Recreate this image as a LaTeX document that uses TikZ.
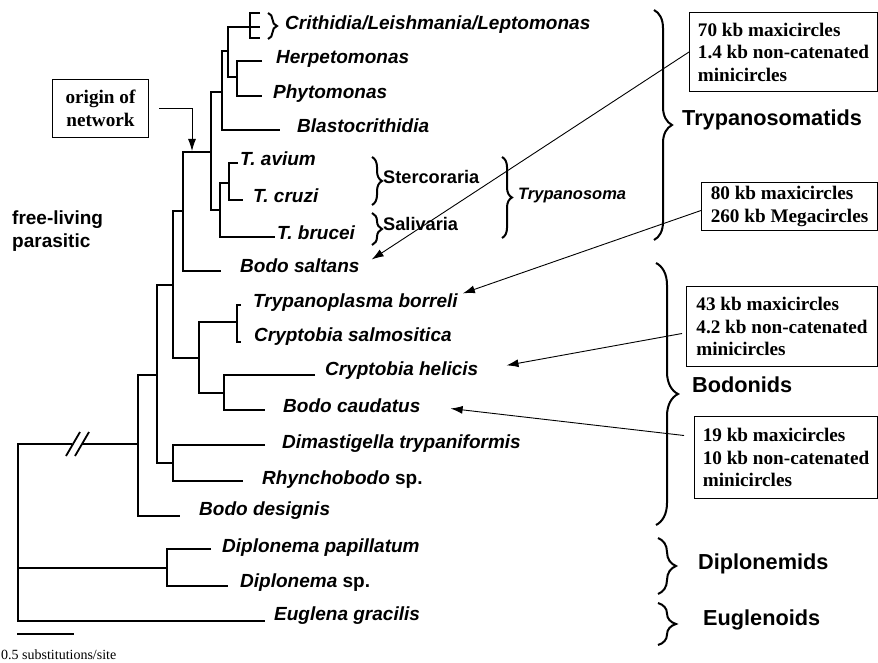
\documentclass[tikz,border=0pt]{standalone}
\usepackage{fontspec}
\setmainfont{Liberation Serif}
\setsansfont{Liberation Sans}
\usepackage{tikz}
\usetikzlibrary{arrows.meta,decorations.pathreplacing}

\newcommand{\taxfont}{\sffamily\bfseries\itshape\fontsize{19}{22}\selectfont}
\newcommand{\grpfont}{\sffamily\bfseries\fontsize{21.7}{24}\selectfont}
\newcommand{\cladefont}{\sffamily\bfseries\fontsize{18.2}{22}\selectfont}
\newcommand{\kbfont}{\bfseries\fontsize{19.2}{22.5}\selectfont}

\begin{document}
\begin{tikzpicture}[x=1pt,y=-1pt,
	br/.style={line width=2.8pt},
	tax/.style={anchor=mid west,inner sep=0pt,font=\taxfont},
	grp/.style={anchor=mid west,inner sep=0pt,font=\grpfont},
	clade/.style={anchor=mid west,inner sep=0pt,font=\cladefont},
	kbbox/.style={draw,line width=1pt,anchor=north west,align=left,inner xsep=8pt,inner ysep=0pt,font=\kbfont},
	ptr/.style={line width=0.9pt,-{Latex[length=12pt,width=8pt]}},
	curly/.style={decorate,decoration={brace,amplitude=#1},line width=2pt},
	curly/.default=10]
	\useasboundingbox (0,0) rectangle (878,663);

	% branch points and tips
	\coordinate (nCLL) at (250,27);
	\coordinate (tHerp) at (262,61);
	\coordinate (tPhyt) at (262,96);
	\coordinate (nHP) at (237,77);
	\coordinate (n1) at (228,51);
	\coordinate (tBlast) at (280,130);
	\coordinate (n2) at (222,92);
	\coordinate (tAvium) at (238,163);
	\coordinate (tCruzi) at (243,200);
	\coordinate (nAC) at (229,183);
	\coordinate (tBrucei) at (275,237);
	\coordinate (nTryp) at (220,210);
	\coordinate (n3) at (211,152);
	\coordinate (tSaltans) at (221,271);
	\coordinate (n4) at (183,211);
	\coordinate (tBorr) at (241,305);
	\coordinate (tSalm) at (241,342);
	\coordinate (nTC) at (237,322);
	\coordinate (tHel) at (315,375);
	\coordinate (tCaud) at (265,410);
	\coordinate (nCB) at (224,393);
	\coordinate (nBod) at (199,358);
	\coordinate (n5) at (173,285);
	\coordinate (tDima) at (265,445);
	\coordinate (tRhyn) at (243,481);
	\coordinate (nDR) at (173,463);
	\coordinate (n6) at (157,375);
	\coordinate (tDesig) at (180,516);
	\coordinate (n7) at (138,444);
	\coordinate (tPap) at (211,549);
	\coordinate (tDsp) at (228,586);
	\coordinate (nDip) at (167,568);
	\coordinate (tEug) at (265,621);
	\coordinate (root) at (18,568);
	\coordinate (brkL) at (72,444);
	\coordinate (brkR) at (82,444);

	% tree
	\draw[br] ([shift={(10,-14)}]nCLL) -- ([shift={(0,-14)}]nCLL) -- ([shift={(0,11)}]nCLL) -- ([shift={(10,11)}]nCLL);
	\draw[br] (nCLL) -- ++(10,0);
	\draw[br] (tHerp) -| (nHP) |- (tPhyt);
	\draw[br] (nCLL) -| (n1) |- (nHP);
	\draw[br] (n1) -| (n2) |- (tBlast);
	\draw[br] (tAvium) -| (nAC) |- (tCruzi);
	\draw[br] (nAC) -| (nTryp) |- (tBrucei);
	\draw[br] (n2) -| (n3) |- (nTryp);
	\draw[br] (n3) -| (n4) |- (tSaltans);
	\draw[br] (tBorr) -| (nTC) |- (tSalm);
	\draw[br] (tHel) -| (nCB) |- (tCaud);
	\draw[br] (nTC) -| (nBod) |- (nCB);
	\draw[br] (n4) -| (n5) |- (nBod);
	\draw[br] (tDima) -| (nDR) |- (tRhyn);
	\draw[br] (n5) -| (n6) |- (nDR);
	\draw[br] (n6) -| (n7) |- (tDesig);
	\draw[br] (brkR) -- (n7);
	\draw[br] (brkL) -| (root) |- (tEug);
	\draw[br] (root) -- (nDip);
	\draw[br] (tPap) -| (nDip) |- (tDsp);
	% break marks
	\draw[line width=1.8pt] ([shift={(-6,12)}]brkL) -- ([shift={(8,-12)}]brkL);
	\draw[line width=1.8pt] ([shift={(3,12)}]brkL) -- ([shift={(17,-12)}]brkL);

	% scale
	\draw[br] (17,634) -- (74,634);
	\path (1,655) node[anchor=west,inner sep=0pt,font=\fontsize{14}{16}\selectfont] (scale) {0.5 substitutions/site};

	% taxa
	\path (285,27) node[tax] (cll) {Crithidia/Leishmania/Leptomonas};
	\path (276,61) node[tax] (herp) {Herpetomonas};
	\path (273,96) node[tax] (phyt) {Phytomonas};
	\path (297,130) node[tax] (blast) {Blastocrithidia};
	\path (240,163) node[tax] (avium) {T. avium};
	\path (253,200) node[tax] (cruzi) {T. cruzi};
	\path (277,237) node[tax] (brucei) {T. brucei};
	\path (240,270) node[tax] (saltans) {Bodo saltans};
	\path (253,305) node[tax] (borreli) {Trypanoplasma borreli};
	\path (254,339) node[tax] (salmo) {Cryptobia salmositica};
	\path (325,373) node[tax] (helicis) {Cryptobia helicis};
	\path (283,410) node[tax] (caud) {Bodo caudatus};
	\path (282,446) node[tax] (dima) {Dimastigella trypaniformis};
	\path (262,482) node[tax] (rhyn) {Rhynchobodo {\upshape sp.}};
	\path (199,513) node[tax] (desig) {Bodo designis};
	\path (222,550) node[tax] (papil) {Diplonema papillatum};
	\path (240,585) node[tax] (dipsp) {Diplonema {\upshape sp.}};
	\path (274,618) node[tax] (eugl) {Euglena gracilis};

	% small braces
	\draw[curly=9] (268,13) -- (268,39);
	\draw[curly] (372,157) -- (372,205);
	\path (383,181) node[clade] (sterc) {Stercoraria};
	\draw[curly] (372,213) -- (372,245);
	\path (383,228) node[clade] (saliv) {Salivaria};
	\draw[curly] (502,157) -- (502,238);
	\path (518,197) node[clade,font=\sffamily\bfseries\itshape\fontsize{16.5}{20}\selectfont] (tryp) {Trypanosoma};

	% group braces
	\draw[curly=18] (654,10) -- (654,240);
	\path (682,123) node[grp] (trypan) {Trypanosomatids};
	\draw[curly=22] (656,263) -- (656,525);
	\path (692,390) node[grp] (bodon) {Bodonids};
	\draw[curly=18] (658,538) -- (658,594);
	\path (698,567) node[grp] (diplo) {Diplonemids};
	\draw[curly=18] (658,603) -- (658,645);
	\path (703,623) node[grp] (eugle) {Euglenoids};

	\path (12,231) node[anchor=west,align=left,inner sep=0pt,font=\sffamily\bfseries\fontsize{19}{23}\selectfont] (life) {free-living\\parasitic};

	% boxes
	\path (689,12) node[kbbox,minimum width=188pt,minimum height=79pt] (box70) {70 kb maxicircles\\1.4 kb non-catenated\\minicircles};
	\path (701,182) node[kbbox,minimum width=176pt,minimum height=48pt] (box80) {80 kb maxicircles\\260 kb Megacircles};
	\path (686,286) node[kbbox,minimum width=191pt,minimum height=80pt] (box43) {43 kb maxicircles\\4.2 kb non-catenated\\minicircles};
	\path (694,416) node[kbbox,minimum width=183pt,minimum height=82pt] (box19) {19 kb maxicircles\\10 kb non-catenated\\minicircles};
	\path (52,79) node[kbbox,align=center,inner xsep=4pt,minimum width=96pt,minimum height=58pt] (origin) {origin of\\network};

	% pointers
	\coordinate (orig) at (192,151);
	\draw[ptr] ([xshift=10pt]origin.east) -| (orig);
	\draw[ptr] (box70.west) -- ([xshift=12pt,yshift=6pt]saltans.east);
	\draw[ptr] ([yshift=-4pt]box80.west) -- ([xshift=5pt,yshift=9pt]borreli.east);
	\draw[ptr] ([xshift=-4pt,yshift=-7pt]box43.west) -- ([xshift=28pt,yshift=5pt]helicis.east);
	\draw[ptr] ([xshift=-10pt,yshift=22pt]box19.west) -- ([xshift=30pt,yshift=-3pt]caud.east);
\end{tikzpicture}
\end{document}
